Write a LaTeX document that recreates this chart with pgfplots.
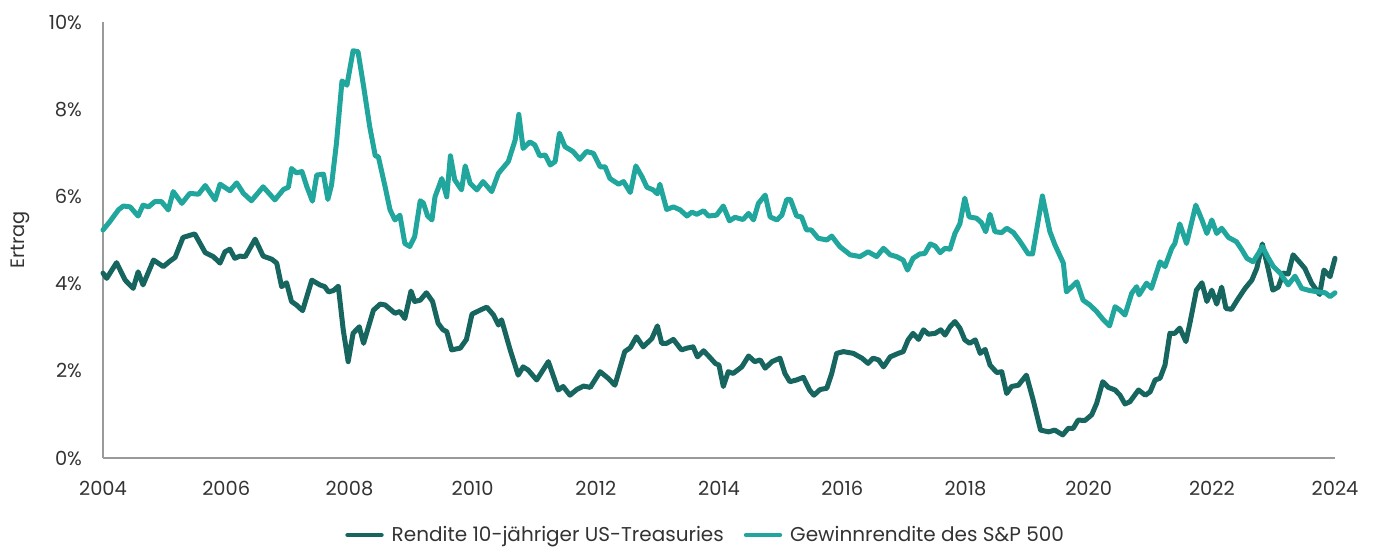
\documentclass[border=0pt]{standalone}
\usepackage{pgfplots}
\pgfplotsset{compat=1.18}
\usepackage{fontspec}
\setmainfont{Poppins}
\definecolor{darkteal}{HTML}{17655F}
\definecolor{lightteal}{HTML}{20A69C}
\definecolor{txt}{HTML}{333333}
\definecolor{axgray}{HTML}{9A9A9A}
\begin{document}
\begin{tikzpicture}
\useasboundingbox (-51.5pt,-44.5pt) rectangle (636.5pt,229pt);
\begin{axis}[
  scale only axis,
  width=616pt, height=218pt,
  xmin=2004, xmax=2024, ymin=0, ymax=10,
  clip=false,
  axis x line*=bottom, axis y line*=left,
  axis line style={draw=axgray, line width=0.8pt},
  xtick={2004,2006,...,2024},
  xticklabels={2004,2006,2008,2010,2012,2014,2016,2018,2020,2022,2024},
  ytick={0,2,4,6,8,10},
  yticklabels={0\%,2\%,4\%,6\%,8\%,10\%},
  major tick length=0pt,
  tick style={draw=none},
  ticklabel style={font=\fontsize{9.7}{11}\selectfont, text=txt},
  xticklabel style={yshift=-8pt},
  yticklabel style={xshift=-7pt},
  ylabel={Ertrag},
  ylabel style={at={(axis description cs:-0.0674,0.5)}, anchor=center, font=\fontsize{9.7}{11}\selectfont, text=txt},
  legend columns=2,
  legend style={at={(0.490,-0.1766)}, anchor=center, draw=none, fill=none,
    font=\fontsize{10}{12}\selectfont, text=txt,
    /tikz/every odd column/.append style={column sep=2pt},
    /tikz/every even column/.append style={column sep=8pt}},
  legend image code/.code={\draw[#1, line width=2.2pt] (0pt,0pt) -- (17pt,0pt);},
  every axis plot/.append style={line width=2.5pt, line join=round, line cap=round, mark=none},
]
\addplot[darkteal] coordinates {
(2004.00,4.24)(2004.06,4.12)(2004.22,4.48)(2004.36,4.08)(2004.49,3.89)(2004.57,4.27)(2004.65,3.97)
(2004.82,4.54)(2004.98,4.39)(2005.09,4.52)(2005.17,4.60)(2005.30,5.06)(2005.49,5.14)(2005.66,4.71)
(2005.79,4.62)(2005.90,4.47)(2005.98,4.73)(2006.06,4.79)(2006.14,4.58)(2006.22,4.63)(2006.31,4.62)
(2006.47,5.02)(2006.60,4.63)(2006.74,4.56)(2006.82,4.47)(2006.90,3.93)(2006.98,4.02)(2007.06,3.59)
(2007.14,3.51)(2007.24,3.38)(2007.39,4.08)(2007.52,3.97)(2007.60,3.93)(2007.66,3.81)(2007.74,3.84)
(2007.82,3.94)(2007.90,2.94)(2007.98,2.21)(2008.06,2.86)(2008.16,3.01)(2008.23,2.63)(2008.39,3.39)
(2008.50,3.53)(2008.58,3.51)(2008.74,3.32)(2008.82,3.36)(2008.90,3.20)(2009.00,3.83)(2009.06,3.59)
(2009.15,3.62)(2009.25,3.79)(2009.35,3.59)(2009.44,3.09)(2009.52,2.94)(2009.58,2.90)(2009.66,2.48)
(2009.80,2.52)(2009.90,2.72)(2009.99,3.30)(2010.12,3.39)(2010.23,3.46)(2010.34,3.28)(2010.42,3.05)
(2010.47,3.17)(2010.61,2.48)(2010.74,1.90)(2010.82,2.09)(2010.90,2.02)(2011.04,1.79)(2011.23,2.21)
(2011.39,1.56)(2011.47,1.64)(2011.58,1.44)(2011.69,1.57)(2011.80,1.65)(2011.91,1.62)(2012.07,1.98)
(2012.20,1.83)(2012.31,1.67)(2012.47,2.44)(2012.56,2.53)(2012.66,2.78)(2012.77,2.55)(2012.91,2.74)
(2013.00,3.03)(2013.07,2.63)(2013.15,2.63)(2013.26,2.72)(2013.39,2.48)(2013.48,2.52)(2013.58,2.55)
(2013.65,2.32)(2013.75,2.46)(2013.85,2.31)(2013.94,2.17)(2014.00,2.13)(2014.07,1.64)(2014.15,1.98)
(2014.23,1.94)(2014.37,2.09)(2014.48,2.34)(2014.58,2.21)(2014.67,2.25)(2014.75,2.06)(2014.86,2.21)
(2014.99,2.29)(2015.07,1.94)(2015.15,1.75)(2015.26,1.79)(2015.37,1.85)(2015.47,1.56)(2015.54,1.44)
(2015.64,1.57)(2015.75,1.60)(2015.83,1.94)(2015.91,2.40)(2016.02,2.44)(2016.18,2.40)(2016.32,2.29)
(2016.42,2.17)(2016.50,2.29)(2016.59,2.25)(2016.67,2.09)(2016.78,2.32)(2016.91,2.40)(2016.99,2.44)
(2017.07,2.71)(2017.15,2.86)(2017.24,2.72)(2017.32,2.94)(2017.40,2.84)(2017.51,2.86)(2017.60,2.94)
(2017.67,2.82)(2017.75,3.01)(2017.83,3.13)(2017.91,2.98)(2017.99,2.71)(2018.07,2.63)(2018.16,2.71)
(2018.24,2.40)(2018.32,2.49)(2018.40,2.13)(2018.51,1.96)(2018.59,1.98)(2018.67,1.48)(2018.75,1.64)
(2018.86,1.67)(2018.99,1.90)(2019.10,1.33)(2019.22,0.64)(2019.35,0.60)(2019.45,0.64)(2019.58,0.53)
(2019.67,0.68)(2019.75,0.68)(2019.83,0.87)(2019.94,0.86)(2020.05,0.99)(2020.13,1.25)(2020.23,1.75)
(2020.32,1.62)(2020.43,1.56)(2020.51,1.44)(2020.59,1.24)(2020.67,1.29)(2020.81,1.56)(2020.92,1.44)
(2021.00,1.52)(2021.08,1.79)(2021.16,1.83)(2021.24,2.13)(2021.32,2.86)(2021.40,2.86)(2021.48,2.98)
(2021.58,2.67)(2021.65,3.13)(2021.75,3.85)(2021.84,4.02)(2021.92,3.59)(2022.00,3.85)(2022.08,3.53)
(2022.16,3.92)(2022.23,3.43)(2022.32,3.41)(2022.43,3.66)(2022.54,3.89)(2022.65,4.08)(2022.73,4.35)
(2022.82,4.91)(2022.92,4.31)(2022.99,3.85)(2023.08,3.92)(2023.16,4.24)(2023.24,4.22)(2023.32,4.66)
(2023.42,4.50)(2023.51,4.35)(2023.62,4.01)(2023.75,3.75)(2023.82,4.31)(2023.92,4.16)(2024.00,4.58)
};
\addlegendentry{Rendite 10-jähriger US-Treasuries}
\addplot[lightteal] coordinates {
(2004.00,5.23)(2004.11,5.42)(2004.25,5.69)(2004.33,5.78)(2004.44,5.76)(2004.57,5.55)(2004.65,5.80)
(2004.74,5.76)(2004.84,5.88)(2004.95,5.88)(2005.06,5.69)(2005.14,6.11)(2005.28,5.84)(2005.41,6.07)
(2005.55,6.05)(2005.66,6.25)(2005.82,5.92)(2005.90,6.28)(2006.06,6.13)(2006.17,6.31)(2006.28,6.07)
(2006.41,5.90)(2006.60,6.22)(2006.79,5.92)(2006.93,6.16)(2007.01,6.21)(2007.06,6.64)(2007.14,6.54)
(2007.23,6.57)(2007.31,6.22)(2007.40,5.89)(2007.47,6.49)(2007.58,6.51)(2007.65,5.93)(2007.71,6.26)
(2007.79,7.22)(2007.88,8.65)(2007.96,8.55)(2008.06,9.34)(2008.14,9.32)(2008.23,8.53)(2008.33,7.60)
(2008.42,6.93)(2008.47,6.91)(2008.58,6.22)(2008.66,5.69)(2008.74,5.46)(2008.82,5.57)(2008.90,4.92)
(2008.98,4.85)(2009.06,5.08)(2009.15,5.90)(2009.20,5.85)(2009.27,5.55)(2009.34,5.46)(2009.39,5.99)
(2009.50,6.41)(2009.58,5.99)(2009.64,6.93)(2009.71,6.38)(2009.82,6.15)(2009.88,6.70)(2009.96,6.30)
(2010.07,6.15)(2010.17,6.34)(2010.31,6.11)(2010.42,6.53)(2010.58,6.80)(2010.69,7.29)(2010.75,7.88)
(2010.82,7.10)(2010.93,7.25)(2011.01,7.18)(2011.09,6.93)(2011.18,6.95)(2011.26,6.72)(2011.34,6.80)
(2011.41,7.45)(2011.50,7.14)(2011.63,7.03)(2011.74,6.85)(2011.85,7.03)(2011.96,6.99)(2012.07,6.68)
(2012.15,6.68)(2012.23,6.41)(2012.37,6.28)(2012.45,6.34)(2012.56,6.09)(2012.65,6.70)(2012.75,6.45)
(2012.83,6.21)(2012.93,6.15)(2013.00,6.06)(2013.04,6.28)(2013.15,5.70)(2013.26,5.76)(2013.37,5.69)
(2013.48,5.55)(2013.56,5.64)(2013.64,5.59)(2013.75,5.67)(2013.83,5.55)(2013.96,5.57)(2014.07,5.78)
(2014.17,5.44)(2014.26,5.52)(2014.39,5.47)(2014.48,5.61)(2014.56,5.46)(2014.64,5.84)(2014.75,6.03)
(2014.83,5.53)(2014.94,5.46)(2015.02,5.57)(2015.10,5.93)(2015.16,5.93)(2015.26,5.55)(2015.34,5.53)
(2015.42,5.23)(2015.50,5.23)(2015.61,5.04)(2015.75,5.00)(2015.83,5.09)(2015.96,4.85)(2016.13,4.66)
(2016.29,4.62)(2016.42,4.73)(2016.56,4.62)(2016.67,4.81)(2016.78,4.66)(2016.88,4.62)(2016.99,4.54)
(2017.06,4.31)(2017.15,4.58)(2017.26,4.68)(2017.34,4.69)(2017.43,4.91)(2017.51,4.86)(2017.59,4.71)
(2017.67,4.81)(2017.75,4.79)(2017.83,5.15)(2017.91,5.37)(2017.99,5.96)(2018.06,5.53)(2018.18,5.50)
(2018.26,5.40)(2018.33,5.19)(2018.40,5.59)(2018.48,5.19)(2018.59,5.17)(2018.67,5.27)(2018.78,5.17)
(2018.89,4.96)(2019.02,4.68)(2019.09,4.68)(2019.25,6.01)(2019.37,5.20)(2019.45,4.90)(2019.59,4.47)
(2019.64,3.81)(2019.81,4.04)(2019.91,3.62)(2020.02,3.51)(2020.13,3.36)(2020.24,3.17)(2020.34,3.03)
(2020.43,3.47)(2020.51,3.39)(2020.59,3.28)(2020.70,3.78)(2020.78,3.93)(2020.82,3.74)(2020.94,4.01)
(2021.02,3.89)(2021.16,4.50)(2021.24,4.39)(2021.35,4.81)(2021.40,4.92)(2021.48,5.37)(2021.59,4.92)
(2021.74,5.80)(2021.84,5.46)(2021.92,5.15)(2022.00,5.46)(2022.08,5.15)(2022.16,5.27)(2022.27,5.06)
(2022.40,4.96)(2022.49,4.77)(2022.57,4.58)(2022.67,4.50)(2022.76,4.70)(2022.82,4.85)(2022.92,4.58)
(2023.00,4.39)(2023.11,4.24)(2023.24,3.97)(2023.35,4.17)(2023.46,3.89)(2023.59,3.84)(2023.73,3.81)
(2023.84,3.79)(2023.92,3.70)(2024.00,3.79)
};
\addlegendentry{Gewinnrendite des S\&P 500}
\end{axis}
\end{tikzpicture}
\end{document}
